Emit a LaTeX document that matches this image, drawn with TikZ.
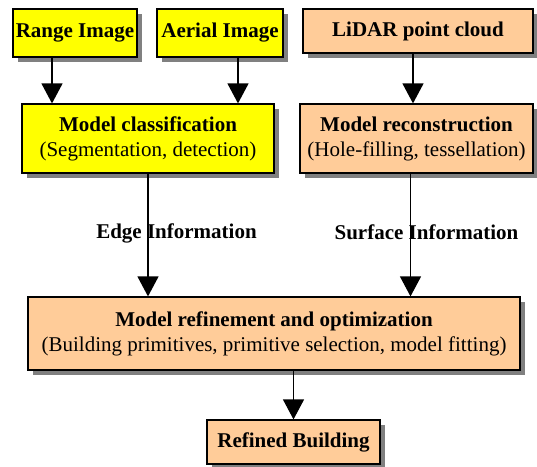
\documentclass[tikz,border=0pt]{standalone}
\usepackage{fontspec}
\setmainfont{Liberation Serif}
\usetikzlibrary{arrows.meta,shadows}
\definecolor{boxyellow}{RGB}{255,255,0}
\definecolor{boxpeach}{RGB}{255,204,153}
\tikzset{
	stagebox/.style={draw=black, line width=1.2pt, rectangle, inner sep=2pt, align=center,
		font=\fontsize{21}{25}\selectfont,
		drop shadow={shadow xshift=5pt, shadow yshift=-5pt, fill=black!50, opacity=1}},
	flowarrow/.style={line width=1.2pt, -{Triangle[length=20pt,width=21pt]}},
	flowlabel/.style={font=\fontsize{21}{25}\selectfont\bfseries, inner sep=0pt}
}

\begin{document}
\begin{tikzpicture}[x=1pt, y=-1pt]
			%%%%% START %%%%%
			\useasboundingbox (0, 0) rectangle (537, 466);
			
			\node[stagebox, fill=boxyellow, minimum width=124pt, minimum height=48pt] (range) at (75, 33) {\textbf{Range Image}};
			\node[stagebox, fill=boxyellow, minimum width=126pt, minimum height=48pt] (aerial) at (220, 33) {\textbf{Aerial Image}};
			\node[stagebox, fill=boxpeach, minimum width=230pt, minimum height=44pt] (lidar) at (418, 31) {\textbf{LiDAR point cloud}};
			
			\node[stagebox, fill=boxyellow, minimum width=252pt, minimum height=69pt] (classif) at (148, 138.5) {\textbf{Model classification}\\(Segmentation, detection)};
			\node[stagebox, fill=boxpeach, minimum width=233pt, minimum height=69pt] (recon) at (416.5, 138.5) {\textbf{Model reconstruction}\\(Hole-filling, tessellation)};
			
			\node[stagebox, fill=boxpeach, minimum width=492pt, minimum height=73pt] (refine) at (274, 333.5) {\textbf{Model refinement and optimization}\\(Building primitives, primitive selection, model fitting)};
			\node[stagebox, fill=boxpeach, minimum width=173pt, minimum height=44pt] (refined) at (293.5, 442) {\textbf{Refined Building}};
			
			\draw[flowarrow] ([xshift=-23pt]range.south) -- ([xshift=-23pt]range.south |- classif.north);
			\draw[flowarrow] ([xshift=18pt]aerial.south) -- ([xshift=18pt]aerial.south |- classif.north);
			\draw[flowarrow] ([xshift=-5pt]lidar.south) -- ([xshift=-5pt]lidar.south |- recon.north);
			
			\node[flowlabel] (edge) at (176.5, 233) {Edge Information};
			\node[flowlabel] (surface) at (426.5, 232) {Surface Information};
			
			\draw[flowarrow] (classif.south) -- (classif.south |- refine.north);
			\draw[flowarrow] ([xshift=-6pt]recon.south) -- ([xshift=-6pt]recon.south |- refine.north);
			
			\draw[flowarrow] (refined.north |- refine.south) -- (refined.north);
			%%%%% END %%%%%
\end{tikzpicture}
\end{document}
